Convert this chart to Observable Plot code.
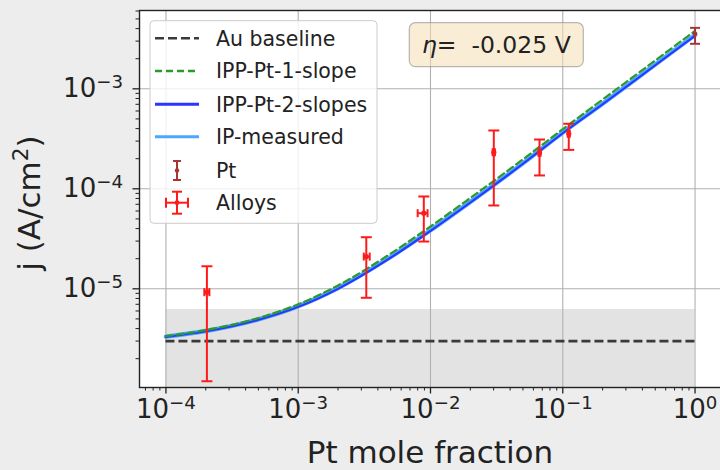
<!DOCTYPE html>
<html><head><meta charset="utf-8">
<script src="https://cdn.jsdelivr.net/npm/d3@7"></script>
<script src="https://cdn.jsdelivr.net/npm/@observablehq/plot@0.6"></script>
<style>
html,body{margin:0;padding:0;background:#ededed;overflow:hidden;width:720px;height:470px;}
#chart{width:720px;height:470px;overflow:hidden;}
#chart svg{display:block;max-width:none !important;width:730px !important;height:470px !important;}
</style></head><body><div id="chart"></div>
<script>
// ---- data ----
const curveX   = [1e-4, 2e-4, 5e-4, 1e-3, 2e-3, 5e-3, 1e-2, 2e-2, 5e-2, 0.1, 0.2, 0.5, 1];
const ipp2     = [3.3e-6, 3.75e-6, 4.9e-6, 6.6e-6, 1.0e-5, 2.05e-5, 3.8e-5, 7.3e-5, 1.78e-4, 3.6e-4, 7.0e-4, 1.72e-3, 3.4e-3];
const ipMeas   = [3.32e-6, 3.78e-6, 4.95e-6, 6.7e-6, 1.02e-5, 2.08e-5, 3.85e-5, 7.4e-5, 1.8e-4, 3.65e-4, 7.1e-4, 1.75e-3, 3.45e-3];
const ipp1     = [3.36e-6, 3.86e-6, 5.1e-6, 7.0e-6, 1.08e-5, 2.25e-5, 4.2e-5, 8.1e-5, 1.97e-4, 3.95e-4, 7.8e-4, 1.92e-3, 3.8e-3];
const auBaseline = 3.0e-6;
const bandRange  = [1e-4, 1];
const bandTop    = 6.2e-6;
const bandBottom = 1e-7;

const alloyX   = [2.04e-4, 3.27e-3, 8.9e-3, 3.01e-2, 6.67e-2, 0.111];
const alloyXlo = [1.95e-4, 3.13e-3, 8.0e-3, 2.95e-2, 6.55e-2, 0.109];
const alloyXhi = [2.13e-4, 3.47e-3, 9.5e-3, 3.07e-2, 6.8e-2, 0.113];
const alloyY   = [9.25e-6, 2.10e-5, 5.7e-5, 2.32e-4, 2.29e-4, 3.55e-4];
const alloyYlo = [1.19e-6, 8.13e-6, 2.97e-5, 6.81e-5, 1.36e-4, 2.45e-4];
const alloyYhi = [1.68e-5, 3.28e-5, 8.38e-5, 3.83e-4, 3.11e-4, 4.47e-4];

const ptX   = [1];
const ptY   = [3.55e-3];
const ptYlo = [2.82e-3];
const ptYhi = [4.07e-3];

const xTicks = [1e-4, 1e-3, 1e-2, 1e-1, 1];
const yTicks = [1e-5, 1e-4, 1e-3];
const xDomain = [6.31e-5, 1.585];
const yDomain = [1.03e-6, 6.07e-3];

const xLabel = "Pt mole fraction";
const yLabelMain = "j (A/cm";
const yLabelSup = "2";
const etaSymbol = "η";
const etaValue = "= \u00a0-0.025 V";
const legendNames = ["Au baseline", "IPP-Pt-1-slope", "IPP-Pt-2-slopes", "IP-measured", "Pt", "Alloys"];

// ---- colours ----
const C = {au:"#3a3a3a", g:"#2a9a2a", b:"#2a35ff", lb:"#4aa6ff", red:"#ff1a1a", pt:"#a83535", grid:"#b0b0b0"};

// ---- tables ----
const curves = curveX.map((x,i)=>({x, ipp1:ipp1[i], ipp2:ipp2[i], ipm:ipMeas[i]}));
const alloys = alloyX.map((x,i)=>({x, xlo:alloyXlo[i], xhi:alloyXhi[i], y:alloyY[i], ylo:alloyYlo[i], yhi:alloyYhi[i]}));
const pts = ptX.map((x,i)=>({x, y:ptY[i], ylo:ptYlo[i], yhi:ptYhi[i]}));
const minorX = [], minorY = [];
for (let e=-6;e<=1;e++) for (let k=2;k<=9;k++){const v=k*10**e; if(v>xDomain[0]&&v<xDomain[1]) minorX.push(v); if(v>yDomain[0]&&v<yDomain[1]) minorY.push(v);}

const hcap = {draw(ctx,size){const w=Math.sqrt(size/Math.PI); ctx.moveTo(-w,0); ctx.lineTo(w,0);}};
const vcap = {draw(ctx,size){const w=Math.sqrt(size/Math.PI); ctx.moveTo(0,-w); ctx.lineTo(0,w);}};

const W=730, H=470;
const plot = Plot.plot({
  width: W, height: H,
  marginLeft: 139, marginRight: 9, marginTop: 10, marginBottom: 83,
  style: {background:"transparent", fontFamily:"DejaVu Sans", fontSize:"26px", color:"#222", overflow:"visible"},
  x: {type:"log", domain:xDomain},
  y: {type:"log", domain:yDomain},
  marks: [
    Plot.frame({fill:"white", stroke:"none"}),
    Plot.rect([bandRange], {x1:d=>d[0], x2:d=>d[1], y1:bandBottom, y2:bandTop, fill:"#e3e3e3", clip:true}),
    Plot.gridX(xTicks, {stroke:C.grid, strokeOpacity:1, strokeWidth:1.1}),
    Plot.gridY(yTicks, {stroke:C.grid, strokeOpacity:1, strokeWidth:1.1}),
    Plot.ruleY([auBaseline], {x1:bandRange[0], x2:bandRange[1], stroke:C.au, strokeWidth:2.6, strokeDasharray:"9,4"}),
    Plot.line(curves, {x:"x", y:"ipm", stroke:C.lb, strokeWidth:4.4, curve:"monotone-x"}),
    Plot.line(curves, {x:"x", y:"ipp2", stroke:C.b, strokeWidth:2, curve:"monotone-x"}),
    Plot.line(curves, {x:"x", y:"ipp1", stroke:C.g, strokeWidth:2.2, strokeDasharray:"7,4", curve:"monotone-x"}),
    // alloys error bars
    Plot.link(alloys, {x1:"x", x2:"x", y1:"ylo", y2:"yhi", stroke:C.red, strokeWidth:2}),
    Plot.link(alloys, {x1:"xlo", x2:"xhi", y1:"y", y2:"y", stroke:C.red, strokeWidth:2}),
    Plot.dot(alloys, {x:"x", y:"ylo", symbol:hcap, r:5.5, stroke:C.red, strokeWidth:2}),
    Plot.dot(alloys, {x:"x", y:"yhi", symbol:hcap, r:5.5, stroke:C.red, strokeWidth:2}),
    Plot.dot(alloys, {x:"xlo", y:"y", symbol:vcap, r:4, stroke:C.red, strokeWidth:2}),
    Plot.dot(alloys, {x:"xhi", y:"y", symbol:vcap, r:4, stroke:C.red, strokeWidth:2}),
    Plot.dot(alloys, {x:"x", y:"y", r:2.6, fill:C.red, stroke:"none"}),
    // Pt error bar
    Plot.link(pts, {x1:"x", x2:"x", y1:"ylo", y2:"yhi", stroke:C.pt, strokeWidth:2}),
    Plot.dot(pts, {x:"x", y:"ylo", symbol:hcap, r:5, stroke:C.pt, strokeWidth:2}),
    Plot.dot(pts, {x:"x", y:"yhi", symbol:hcap, r:5, stroke:C.pt, strokeWidth:2}),
    Plot.dot(pts, {x:"x", y:"y", r:2.4, fill:C.pt, stroke:"none"}),
    // frame + axes
    Plot.frame({stroke:"#222", strokeWidth:1.4}),
    Plot.axisX(minorX, {tickSize:3.5, tickFormat:()=>"", stroke:"#222", strokeWidth:1}),
    Plot.axisY(minorY, {tickSize:3.5, tickFormat:()=>"", stroke:"#222", strokeWidth:1}),
    Plot.axisX(xTicks, {tickSize:6.5, tickPadding:6, tickFormat:d=>String(Math.round(Math.log10(d))), stroke:"#222", strokeWidth:1.3, label:null}),
    Plot.axisY(yTicks, {tickSize:6.5, tickPadding:10, tickFormat:d=>String(Math.round(Math.log10(d))), stroke:"#222", strokeWidth:1.3, label:null})
  ]
});
document.getElementById("chart").appendChild(plot);
const svg = d3.select(plot);

// superscript tick labels 10^n
svg.selectAll('g[aria-label="x-axis tick label"] text, g[aria-label="y-axis tick label"] text').each(function(){
  const t = d3.select(this); const e = t.text();
  if (!e) return;
  t.text("");
  t.append("tspan").text("10");
  t.append("tspan").attr("dy","-9.5").attr("font-size","18.2px").text(e.replace("-","\u2212"));
});

// axis labels
svg.append("text").attr("x",430).attr("y",463).attr("text-anchor","middle")
  .attr("font-family","DejaVu Sans").attr("font-size","31px").attr("fill","#222").text(xLabel);
const yl = svg.append("text").attr("transform","translate(40,203) rotate(-90)").attr("text-anchor","middle")
  .attr("font-family","DejaVu Sans").attr("font-size","31px").attr("fill","#222");
yl.append("tspan").text(yLabelMain);
yl.append("tspan").attr("dy","-12").attr("font-size","21.7px").text(yLabelSup);
yl.append("tspan").attr("dy","12").text(")");

// legend
const lg = svg.append("g").attr("font-family","DejaVu Sans").attr("font-size","20.5px").attr("fill","#222").attr("text-anchor","start");
lg.append("rect").attr("x",150).attr("y",20.7).attr("width",227).attr("height",202.6).attr("rx",4)
  .attr("fill","white").attr("fill-opacity",0.8).attr("stroke","#cccccc").attr("stroke-width",1);
const rowsY = [38.3, 71, 104.3, 136.7, 170.5, 202.7];
const hx0=155, hx1=199, hc=177, tx=216;
const lineStyles = [
  {stroke:C.au, w:2.6, dash:"9,4"},
  {stroke:C.g, w:2.4, dash:"7,4"},
  {stroke:C.b, w:3, dash:null},
  {stroke:C.lb, w:3, dash:null}
];
lineStyles.forEach((s,i)=>{
  lg.append("line").attr("x1",hx0).attr("x2",hx1).attr("y1",rowsY[i]).attr("y2",rowsY[i])
    .attr("stroke",s.stroke).attr("stroke-width",s.w).attr("stroke-dasharray",s.dash);
});
// Pt handle
{ const y=rowsY[4], g=lg.append("g").attr("stroke",C.pt).attr("stroke-width",2);
  g.append("line").attr("x1",hc).attr("x2",hc).attr("y1",y-9.5).attr("y2",y+9.5);
  g.append("line").attr("x1",hc-4).attr("x2",hc+4).attr("y1",y-9.5).attr("y2",y-9.5);
  g.append("line").attr("x1",hc-4).attr("x2",hc+4).attr("y1",y+9.5).attr("y2",y+9.5);
  lg.append("circle").attr("cx",hc).attr("cy",y).attr("r",2.2).attr("fill",C.pt); }
// Alloys handle
{ const y=rowsY[5], g=lg.append("g").attr("stroke",C.red).attr("stroke-width",2);
  g.append("line").attr("x1",hc).attr("x2",hc).attr("y1",y-11).attr("y2",y+11);
  g.append("line").attr("x1",hc-5).attr("x2",hc+5).attr("y1",y-11).attr("y2",y-11);
  g.append("line").attr("x1",hc-5).attr("x2",hc+5).attr("y1",y+11).attr("y2",y+11);
  g.append("line").attr("x1",hc-11).attr("x2",hc+11).attr("y1",y).attr("y2",y);
  g.append("line").attr("x1",hc-11).attr("x2",hc-11).attr("y1",y-5).attr("y2",y+5);
  g.append("line").attr("x1",hc+11).attr("x2",hc+11).attr("y1",y-5).attr("y2",y+5);
  lg.append("circle").attr("cx",hc).attr("cy",y).attr("r",2.4).attr("fill",C.red); }
legendNames.forEach((n,i)=>{
  lg.append("text").attr("x",tx).attr("y",rowsY[i]).attr("dy","0.36em").attr("text-anchor","start").text(n);
});

// eta annotation
const eg = svg.append("g");
eg.append("rect").attr("x",409.3).attr("y",22.7).attr("width",174).attr("height",44).attr("rx",6)
  .attr("fill","#f5deb3").attr("fill-opacity",0.55).attr("stroke","#8a8a8a").attr("stroke-opacity",0.6).attr("stroke-width",1.2);
const et = eg.append("text").attr("x",496.3).attr("y",45).attr("dy","0.36em").attr("text-anchor","middle")
  .attr("font-family","DejaVu Sans").attr("font-size","23.5px").attr("fill","#222").attr("xml:space","preserve");
et.append("tspan").attr("font-style","italic").text(etaSymbol);
et.append("tspan").text(etaValue);
</script></body></html>
